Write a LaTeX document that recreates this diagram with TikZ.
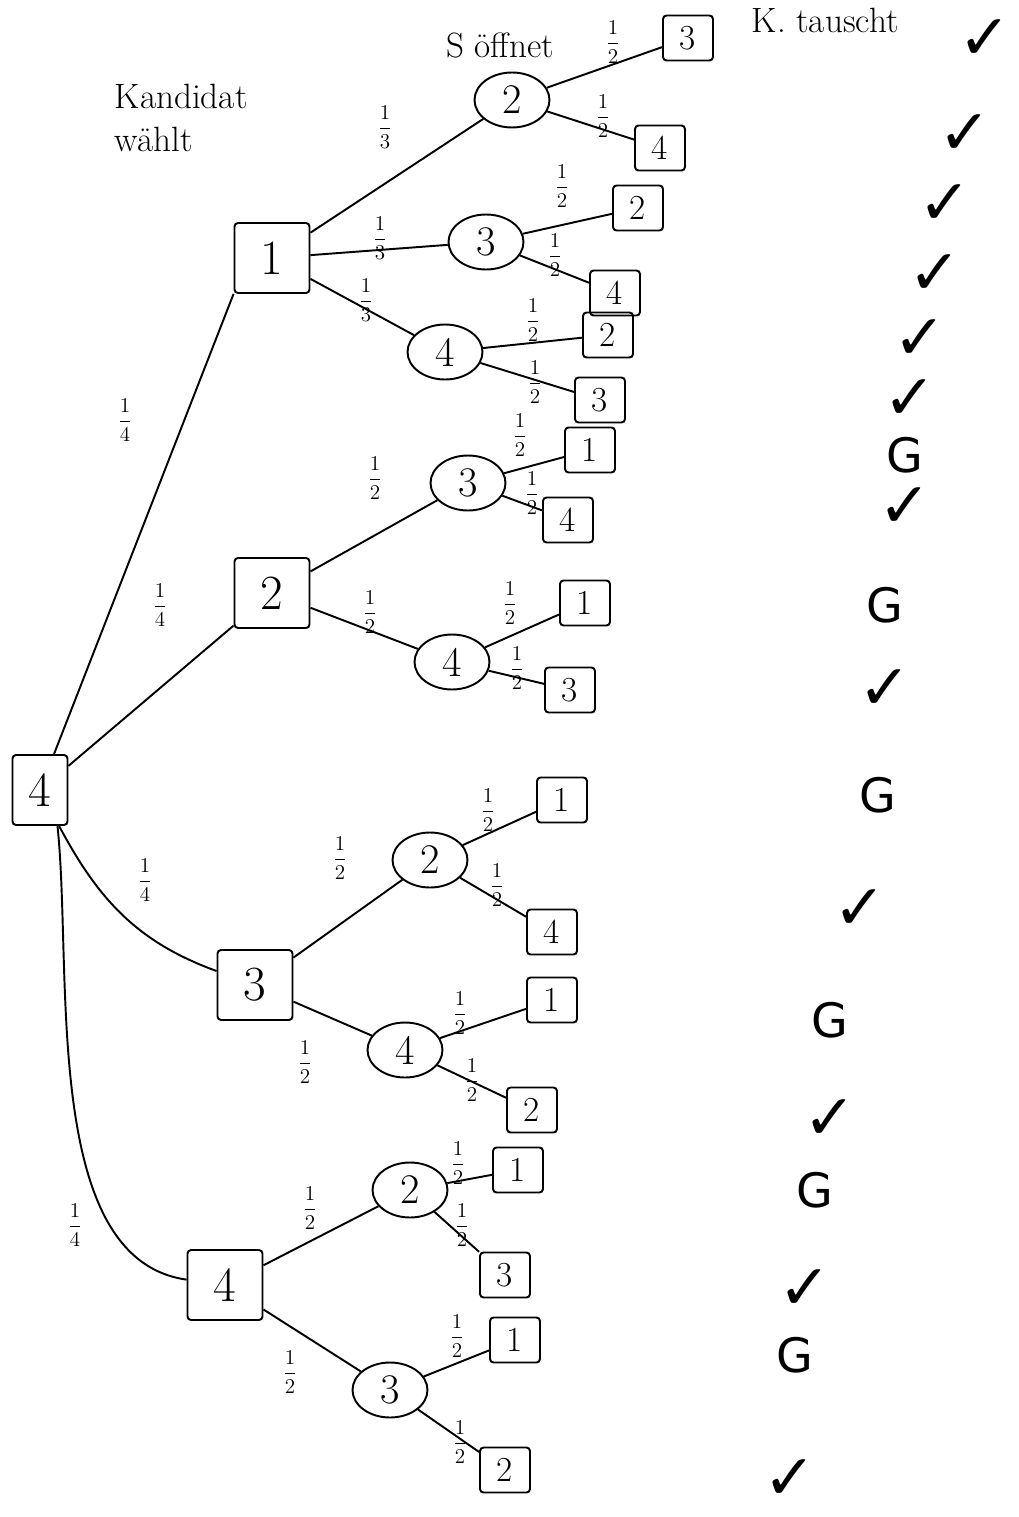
\documentclass[tikz,border=0pt]{standalone}
\usepackage{amsmath}
\usepackage{fontspec}
\newfontfamily\marksfont{DejaVu Sans}
\usetikzlibrary{shapes.geometric}

\begin{document}
\begin{tikzpicture}[
    x=0.02cm, y=-0.02cm,
    line width=1.1pt,
    door/.style={
        draw,
        rounded corners=2pt,
        minimum width=1.5cm,
        minimum height=1.4cm,
        font=\fontsize{28}{30}\selectfont
    },
    rootbox/.style={
        door,
        minimum width=1.1cm
    },
    opened/.style={
        draw,
        ellipse,
        minimum width=1.5cm,
        minimum height=1.1cm,
        inner sep=0pt,
        font=\fontsize{24}{26}\selectfont
    },
    final/.style={
        door,
        minimum width=1.0cm,
        minimum height=0.9cm,
        font=\fontsize{20}{22}\selectfont
    },
    prob/.style={
        font=\large,
        inner sep=1pt
    },
    check/.style={
        font=\marksfont\fontsize{36}{40}\selectfont
    },
    gain/.style={
        font=\marksfont\fontsize{27}{30}\selectfont
    },
    note/.style={
        font=\fontsize{20}{24}\selectfont,
        align=left
    }
]
\useasboundingbox (0,0) rectangle (1018,1517);

% Headings
\node[note, anchor=west] (cand) at (108,118) {Kandidat\\wählt};
\node[note] (opens) at (500,45) {S öffnet};
\node[note, anchor=west] (swap) at (745,20) {K. tauscht};

% Start
\node[rootbox] (root) at (40,790) {4};

% Candidate picks a door
\node[door] (a1) at (272,258) {1};
\node[door] (a2) at (272,593) {2};
\node[door] (a3) at (255,985) {3};
\node[door] (a4) at (225,1285) {4};

\draw (root) -- (a1.south west);
\draw (root) -- (a2);
\draw (root) to[out=-62, in=160] (a3);
\draw ([xshift=0.35cm]root.south) to[out=-84, in=172, looseness=0.8] (a4);

% Showmaster opens a door
\foreach \from/\n/\d/\x/\y in {a1/b12/2/512/100, a1/b13/3/486/242, a1/b14/4/445/352,
    a2/b23/3/468/483, a2/b24/4/452/662,
    a3/b32/2/430/860, a3/b34/4/405/1050,
    a4/b42/2/410/1190, a4/b43/3/390/1390} {
    \node[opened] (\n) at (\x,\y) {\d};
    \draw (\from) -- (\n);
}

% Candidate switches
\foreach \from/\n/\d/\x/\y in {b12/c1/3/688/38, b12/c2/4/660/148,
    b13/c3/2/638/208, b13/c4/4/615/293,
    b14/c5/2/608/335, b14/c6/3/600/400,
    b23/c7/1/590/450, b23/c8/4/568/520,
    b24/c9/1/585/603, b24/c10/3/570/690,
    b32/c11/1/562/800, b32/c12/4/552/932,
    b34/c13/1/552/1000, b34/c14/2/532/1110,
    b42/c15/1/518/1170, b42/c16/3/505/1275,
    b43/c17/1/515/1340, b43/c18/2/505/1470} {
    \node[final] (\n) at (\x,\y) {\d};
    \draw (\from) -- (\n);
}

% Probabilities
\foreach \i/\x/\y/\q in {1/125/420/4, 2/160/605/4, 3/145/880/4, 4/75/1225/4,
    5/385/127/3, 6/380/238/3, 7/366/300/3,
    8/613/42/2, 9/603/116/2, 10/562/186/2, 11/555/255/2, 12/533/320/2, 13/535/382/2,
    14/375/478/2, 15/370/612/2, 16/520/435/2, 17/532/493/2, 18/510/603/2, 19/517/668/2,
    20/340/858/2, 21/305/1062/2, 22/488/810/2, 23/497/885/2, 24/460/1013/2, 25/472/1080/2,
    26/310/1208/2, 27/290/1372/2, 28/458/1163/2, 29/462/1225/2, 30/457/1336/2, 31/460/1442/2} {
    \node[prob] (p\i) at (\x,\y) {$\dfrac{1}{\q}$};
}

% Outcome
\foreach \i/\x/\y in {1/985/40, 2/965/135, 3/945/205, 4/935/275, 5/920/340,
    6/910/400, 8/905/508, 10/885/690,
    12/860/910, 14/830/1120, 16/805/1290, 18/790/1480} {
    \node[check] (r\i) at (\x,\y) {✓};
}
\foreach \i/\x/\y in {7/905/455, 9/885/605, 11/878/795, 13/830/1020,
    15/815/1190, 17/795/1355} {
    \node[gain] (r\i) at (\x,\y) {G};
}

\end{tikzpicture}
\end{document}
